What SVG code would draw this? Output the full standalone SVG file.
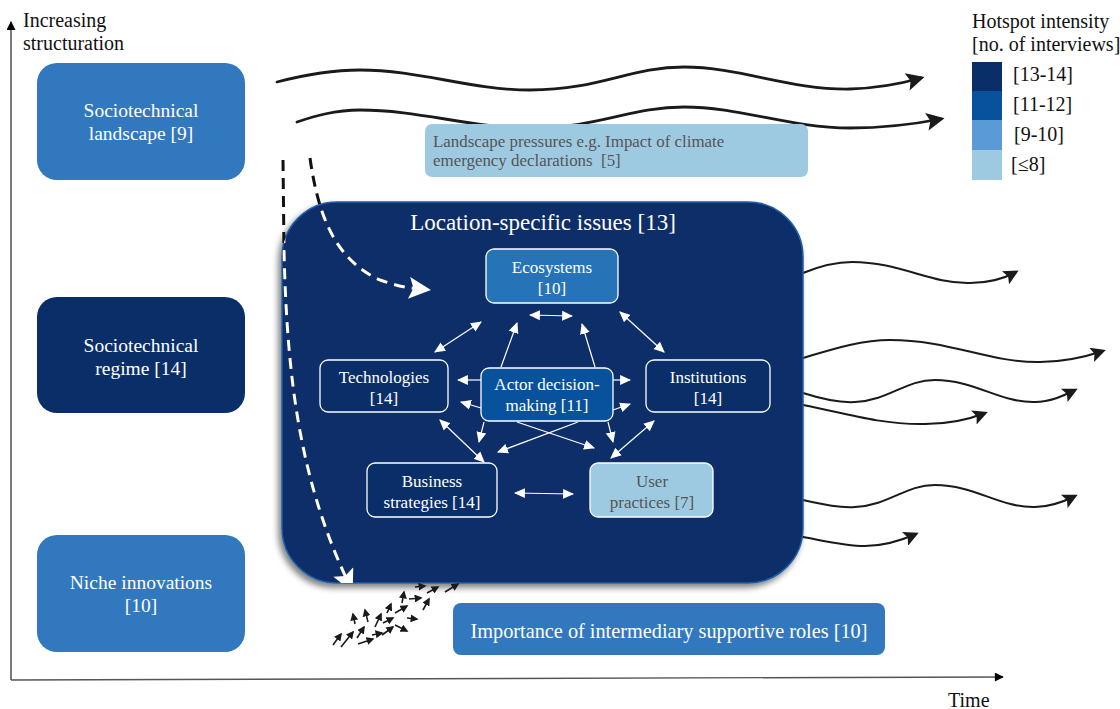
<svg xmlns="http://www.w3.org/2000/svg" width="1120" height="709" viewBox="0 0 1120 709">
<defs>
<style>
text{font-family:"Liberation Serif","Times New Roman",serif;}
.wt{fill:#ffffff;}
.gt{fill:#555555;}
.lbl{font-size:19.5px;text-anchor:middle;}
.inn{font-size:17px;text-anchor:middle;}
.ax{font-size:20px;fill:#111;}
.wave{fill:none;stroke:#1a1a1a;stroke-width:2.8;stroke-linecap:round;marker-end:url(#bk);}
.wave2{fill:none;stroke:#1a1a1a;stroke-width:2;stroke-linecap:round;marker-end:url(#bk2);}
.wl{fill:none;stroke:#ffffff;stroke-width:1.2;}
.dbl{marker-start:url(#wa);marker-end:url(#wa);}
.sgl{marker-end:url(#wa);}
.tiny{fill:none;stroke:#1a1a1a;stroke-width:1.6;marker-end:url(#ta);}
.dash{fill:none;stroke-width:3;stroke-dasharray:11 7;}
</style>
<marker id="wa" viewBox="0 0 10 10" refX="9" refY="5" markerWidth="11" markerHeight="11" markerUnits="userSpaceOnUse" orient="auto-start-reverse"><path d="M0,0.5 L10,5 L0,9.5 z" fill="#ffffff"/></marker>
<marker id="bk" viewBox="0 0 10 10" refX="8" refY="5" markerWidth="22" markerHeight="18" markerUnits="userSpaceOnUse" orient="auto"><path d="M0,0 L10,5 L0,10 L2,5 z" fill="#1a1a1a"/></marker>
<marker id="bk2" viewBox="0 0 10 10" refX="8" refY="5" markerWidth="18" markerHeight="15" markerUnits="userSpaceOnUse" orient="auto"><path d="M0,0 L10,5 L0,10 L2,5 z" fill="#1a1a1a"/></marker>
<marker id="ta" viewBox="0 0 10 10" refX="8" refY="5" markerWidth="8" markerHeight="8" markerUnits="userSpaceOnUse" orient="auto"><path d="M0,0 L10,5 L0,10 z" fill="#1a1a1a"/></marker>
<marker id="ax" viewBox="0 0 10 10" refX="9" refY="5" markerWidth="11" markerHeight="9" markerUnits="userSpaceOnUse" orient="auto"><path d="M0,0 L10,5 L0,10 z" fill="#000000"/></marker>
<marker id="wd" viewBox="0 0 10 10" refX="5" refY="5" markerWidth="24" markerHeight="22" markerUnits="userSpaceOnUse" orient="auto"><path d="M0,0 L10,5 L0,10 L2,5 z" fill="#ffffff"/></marker>
<clipPath id="boxclip"><rect x="282" y="202" width="521" height="381" rx="55"/></clipPath>
<filter id="sh" x="-10%" y="-10%" width="120%" height="120%"><feGaussianBlur in="SourceAlpha" stdDeviation="3"/><feOffset dx="-3" dy="4"/><feComponentTransfer><feFuncA type="linear" slope="0.5"/></feComponentTransfer><feMerge><feMergeNode/><feMergeNode in="SourceGraphic"/></feMerge></filter>
</defs>
<rect width="1120" height="709" fill="#ffffff"/>

<g id="axes">
<line x1="11" y1="680" x2="11" y2="22" stroke="#333" stroke-width="1.3" marker-end="url(#ax)"/>
<line x1="11" y1="680" x2="1003" y2="677" stroke="#555" stroke-width="1.3" marker-end="url(#ax)"/>
<text class="ax" x="23" y="27">Increasing</text>
<text class="ax" x="23" y="50">structuration</text>
<text class="ax" x="948" y="707">Time</text>
</g>

<g id="legend">
<text class="ax" x="972" y="28">Hotspot intensity</text>
<text class="ax" x="972" y="51">[no. of interviews]</text>
<rect x="972" y="62" width="30" height="30" fill="#0a2f68"/>
<rect x="972" y="91" width="30" height="30" fill="#08519c"/>
<rect x="972" y="120" width="30" height="30" fill="#5b9bd5"/>
<rect x="972" y="150" width="30" height="30" fill="#9ecae1"/>
<text class="ax" x="1013" y="81">[13-14]</text>
<text class="ax" x="1013" y="111">[11-12]</text>
<text class="ax" x="1014" y="141">[9-10]</text>
<text class="ax" x="1011" y="171">[≤8]</text>
</g>

<g id="landscape">
<rect x="37" y="63" width="208" height="117" rx="20" fill="#3278be"/>
<text class="lbl wt" x="141" y="117">Sociotechnical</text>
<text class="lbl wt" x="141" y="140">landscape [9]</text>
</g>
<g id="regime">
<rect x="37" y="297" width="208" height="116" rx="20" fill="#0a2f68"/>
<text class="lbl wt" x="141" y="352">Sociotechnical</text>
<text class="lbl wt" x="141" y="375">regime [14]</text>
</g>
<g id="niche">
<rect x="37" y="535" width="208" height="117" rx="20" fill="#3278be"/>
<text class="lbl wt" x="141" y="589">Niche innovations</text>
<text class="lbl wt" x="141" y="612">[10]</text>
</g>

<g id="landscape-waves">
<path class="wave" d="M277,82 C300,76 330,70 360,70 C420,70 470,90 530,90 C600,90 630,67 684,67 C740,67 790,90 850,89 C880,88 900,84 921,78"/>
<path class="wave" d="M297,122 C315,116 335,110 360,110 C420,110 470,128 530,128 C600,128 630,107 684,107 C740,107 790,128 850,128 C885,128 915,124 941,119"/>
</g>

<g id="pressures">
<rect x="425" y="124" width="383" height="53" rx="7" fill="#9ecae1"/>
<text class="gt" x="433" y="147" font-size="16.9">Landscape pressures e.g. Impact of climate</text>
<text class="gt" x="433" y="166" font-size="16.9">emergency declarations&#160; [5]</text>
</g>

<g id="right-waves">
<path class="wave2" d="M803,273 C820,266 835,262 852,262 C900,262 930,284 970,283 C990,283 1005,278 1016,272"/>
<path class="wave2" d="M803,358 C830,350 860,340 890,340 C950,340 990,363 1040,362 C1065,362 1085,357 1103,351"/>
<path class="wave2" d="M803,393 C825,400 840,403 855,402 C890,400 905,380 935,380 C975,380 1000,403 1035,402 C1050,402 1063,396 1075,390"/>
<path class="wave2" d="M803,405 C840,412 880,425 925,424 C950,424 970,419 985,413"/>
<path class="wave2" d="M803,500 C825,505 840,508 855,507 C890,505 905,485 935,485 C975,485 1000,508 1035,507 C1050,507 1063,502 1075,496"/>
<path class="wave2" d="M803,537 C825,541 845,546 865,546 C885,546 900,541 916,534"/>
</g>

<g id="location-issues">
<rect x="282" y="202" width="521" height="381" rx="55" fill="#0a2f68" stroke="#1f5fa8" stroke-width="1.5" filter="url(#sh)"/>
<text class="wt" x="543" y="230" font-size="23" text-anchor="middle">Location-specific issues [13]</text>
</g>

<g id="dashed-arrows">
<path class="dash" stroke="#111" d="M283,160 L284,250 C287,380 300,480 348,582"/>
<path class="dash" stroke="#111" d="M310,158 C318,215 335,260 380,280 C400,287 410,288 420,289"/>
<g clip-path="url(#boxclip)">
<path class="dash" stroke="#ffffff" d="M283,160 L284,250 C287,380 300,480 348,582" marker-end="url(#wd)"/>
<path class="dash" stroke="#ffffff" d="M310,158 C318,215 335,260 380,280 C400,287 410,288 420,289" marker-end="url(#wd)"/>
</g>
</g>

<g id="connectors">
<line class="wl dbl" x1="530" y1="315" x2="572" y2="316"/>
<line class="wl dbl" x1="435" y1="352" x2="481" y2="322"/>
<line class="wl dbl" x1="620" y1="312" x2="664" y2="352"/>
<line class="wl sgl" x1="501" y1="367" x2="517" y2="323"/>
<line class="wl sgl" x1="595" y1="367" x2="582" y2="324"/>
<line class="wl sgl" x1="481" y1="380" x2="458" y2="380"/>
<line class="wl sgl" x1="613" y1="380" x2="630" y2="380"/>
<line class="wl sgl" x1="481" y1="408" x2="461" y2="402"/>
<line class="wl sgl" x1="613" y1="410" x2="630" y2="404"/>
<line class="wl sgl" x1="484" y1="422" x2="479" y2="442"/>
<line class="wl sgl" x1="608" y1="422" x2="613" y2="442"/>
<line class="wl sgl" x1="517" y1="422" x2="594" y2="448"/>
<line class="wl sgl" x1="578" y1="422" x2="498" y2="452"/>
<line class="wl dbl" x1="440" y1="420" x2="484" y2="462"/>
<line class="wl dbl" x1="654" y1="421" x2="611" y2="458"/>
<line class="wl dbl" x1="515" y1="493" x2="573" y2="494"/>
</g>

<g id="ecosystems">
<rect x="486" y="249" width="132" height="54" rx="8" fill="#2673b8" stroke="#ffffff" stroke-width="1.3"/>
<text class="inn wt" x="552" y="273">Ecosystems</text>
<text class="inn wt" x="552" y="294">[10]</text>
</g>
<g id="technologies">
<rect x="320" y="360" width="128" height="52" rx="8" fill="#0a2f68" stroke="#ffffff" stroke-width="1.3"/>
<text class="inn wt" x="384" y="383">Technologies</text>
<text class="inn wt" x="384" y="404">[14]</text>
</g>
<g id="actor">
<rect x="481" y="368" width="132" height="53" rx="8" fill="#08519c" stroke="#ffffff" stroke-width="1.3"/>
<text class="inn wt" x="547" y="390">Actor decision-</text>
<text class="inn wt" x="547" y="411">making [11]</text>
</g>
<g id="institutions">
<rect x="646" y="360" width="124" height="52" rx="8" fill="#0a2f68" stroke="#ffffff" stroke-width="1.3"/>
<text class="inn wt" x="708" y="383">Institutions</text>
<text class="inn wt" x="708" y="404">[14]</text>
</g>
<g id="business">
<rect x="367" y="463" width="130" height="54" rx="8" fill="#0a2f68" stroke="#ffffff" stroke-width="1.3"/>
<text class="inn wt" x="432" y="487">Business</text>
<text class="inn wt" x="432" y="508">strategies [14]</text>
</g>
<g id="user">
<rect x="590" y="463" width="123" height="54" rx="8" fill="#9ecae1" stroke="#ffffff" stroke-width="1.3"/>
<text class="inn gt" x="652" y="487">User</text>
<text class="inn gt" x="652" y="508">practices [7]</text>
</g>

<g id="niche-arrows">
<line class="tiny" x1="333" y1="645" x2="341" y2="634"/>
<line class="tiny" x1="341" y1="647" x2="353" y2="632"/>
<line class="tiny" x1="357" y1="638" x2="364" y2="627"/>
<line class="tiny" x1="358" y1="644" x2="373" y2="639"/>
<line class="tiny" x1="372" y1="635" x2="382" y2="633"/>
<line class="tiny" x1="375" y1="627" x2="381" y2="614"/>
<line class="tiny" x1="382" y1="635" x2="393" y2="627"/>
<line class="tiny" x1="355" y1="624" x2="353" y2="614"/>
<line class="tiny" x1="368" y1="622" x2="365" y2="610"/>
<line class="tiny" x1="383" y1="623" x2="393" y2="618"/>
<line class="tiny" x1="395" y1="625" x2="407" y2="631"/>
<line class="tiny" x1="387" y1="613" x2="391" y2="604"/>
<line class="tiny" x1="395" y1="613" x2="407" y2="606"/>
<line class="tiny" x1="407" y1="618" x2="417" y2="619"/>
<line class="tiny" x1="402" y1="603" x2="404" y2="592"/>
<line class="tiny" x1="409" y1="599" x2="421" y2="598"/>
<line class="tiny" x1="423" y1="610" x2="429" y2="599"/>
<line class="tiny" x1="427" y1="593" x2="438" y2="587"/>
<line class="tiny" x1="415" y1="587" x2="425" y2="586"/>
<line class="tiny" x1="445" y1="592" x2="458" y2="584"/>
</g>

<g id="intermediary">
<rect x="453" y="603" width="432" height="52" rx="8" fill="#3278be"/>
<text class="wt" x="669" y="638" font-size="20.3" text-anchor="middle">Importance of intermediary supportive roles [10]</text>
</g>
</svg>
